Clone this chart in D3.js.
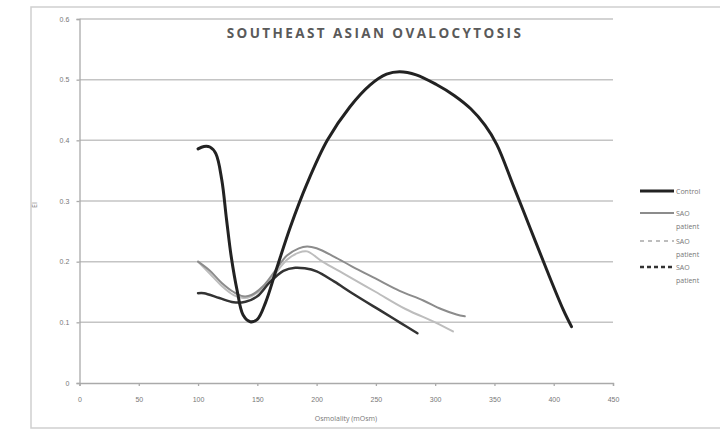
<!DOCTYPE html>
<html lang="en">
<head>
    <script type="text/javascript" src="https://cdn.jsdelivr.net/npm/d3@7"></script>
    <meta charset="UTF-8">
    <title>Southeast Asian Ovalocytosis</title>
<style>
    body { margin: 0; background: #ffffff; font-family: "Open Sans", "DejaVu Sans", sans-serif; }
</style>
</head>
<body>
<script>

    // osmolality (x) / EI (y)
    var controlX = [100,105,110,115,120,124,128,133,138,144,150,157,166,178,192,209,228,245,259,270,284,301,316,330,342,352,366,380,394,408,415];
    var controlY = [0.386,0.390,0.389,0.378,0.335,0.270,0.208,0.152,0.112,0.101,0.105,0.133,0.187,0.258,0.329,0.400,0.455,0.491,0.509,0.513,0.508,0.492,0.474,0.452,0.425,0.393,0.325,0.256,0.187,0.121,0.093];

    var sao1X = [100,110,120,130,138,145,155,165,175,185,192,200,215,230,250,270,290,305,318,325];
    var sao1Y = [0.200,0.185,0.165,0.150,0.143,0.145,0.160,0.185,0.210,0.222,0.225,0.222,0.208,0.192,0.172,0.152,0.136,0.122,0.113,0.110];

    var sao2X = [100,110,120,130,138,145,155,165,175,185,192,205,225,250,275,300,315];
    var sao2Y = [0.200,0.180,0.160,0.145,0.140,0.143,0.157,0.180,0.203,0.215,0.217,0.200,0.178,0.150,0.122,0.100,0.085];

    var sao3X = [100,105,118,130,140,150,160,172,182,190,200,215,230,255,270,285];
    var sao3Y = [0.148,0.148,0.140,0.133,0.134,0.143,0.165,0.185,0.190,0.189,0.184,0.167,0.148,0.118,0.100,0.082];

    var xTicks = [0,50,100,150,200,250,300,350,400,450];
    var yTicks = [0,0.1,0.2,0.3,0.4,0.5,0.6];

    var seriesNames = ["Control", "SAO patient", "SAO patient", "SAO patient"];

    var series = [
        {x: controlX, y: controlY, color: "#222", width: 3, dash: null},
        {x: sao1X, y: sao1Y, color: "#8c8c8c", width: 2, dash: null},
        {x: sao2X, y: sao2Y, color: "#bdbdbd", width: 2, dash: "4,4"},
        {x: sao3X, y: sao3Y, color: "#333", width: 2.5, dash: "4,3"}
    ];

    var svg = d3.select("body").append("svg")
        .attr("width", 720)
        .attr("height", 430);

    // outer frame
    svg.append("rect")
        .attr("x", 31).attr("y", 7)
        .attr("width", 700).attr("height", 421)
        .attr("fill", "none")
        .attr("stroke", "#cfcfcf")
        .attr("stroke-width", 1.5);

    var x = d3.scaleLinear().domain([0,450]).range([79.5,613]);
    var y = d3.scaleLinear().domain([0,0.6]).range([383,19]);

    // gridlines
    svg.append("g").selectAll("line")
        .data(yTicks.slice(1))
        .enter().append("line")
        .attr("x1", x(0)).attr("x2", x(450))
        .attr("y1", function(d){return y(d);})
        .attr("y2", function(d){return y(d);})
        .attr("stroke", "#c4c4c4")
        .attr("stroke-width", 1.5);

    var xAxis = d3.axisBottom(x).tickValues(xTicks).tickSize(3).tickFormat(d3.format("d"));
    var yAxis = d3.axisLeft(y).tickValues(yTicks).tickSize(3).tickFormat(function(d){return d === 0 ? "0" : d3.format(".1f")(d);});

    var gx = svg.append("g")
        .attr("transform", "translate(0," + y(0) + ")")
        .call(xAxis);
    gx.selectAll("text").attr("dy", "1.9em");

    var gy = svg.append("g")
        .attr("transform", "translate(" + x(0) + ",0)")
        .call(yAxis);
    gy.selectAll("text").attr("dx", "-0.6em");

    svg.selectAll(".tick text").attr("fill", "#777").attr("font-size", 7);
    svg.selectAll(".domain, .tick line").attr("stroke", "#aaa").attr("stroke-width", 1.3);

    var line = d3.line()
        .x(function(d){return x(d[0]);})
        .y(function(d){return y(d[1]);})
        .curve(d3.curveCatmullRom.alpha(0.5));

    // draw lightest first, control on top
    [2,1,3,0].forEach(function(i){
        var s = series[i];
        var pts = s.x.map(function(v,k){return [v, s.y[k]];});
        svg.append("path")
            .attr("d", line(pts))
            .attr("fill", "none")
            .attr("stroke", s.color)
            .attr("stroke-width", s.width)
            .attr("stroke-linejoin", "round")
            .attr("stroke-linecap", "round");
    });

    // title
    svg.append("text")
        .attr("x", 375).attr("y", 38)
        .attr("text-anchor", "middle")
        .attr("font-size", 13.5)
        .attr("font-weight", "bold")
        .attr("letter-spacing", 2.4)
        .attr("fill", "#5a5a5a")
        .text("SOUTHEAST ASIAN OVALOCYTOSIS");

    // axis titles
    svg.append("text")
        .attr("x", 346).attr("y", 421)
        .attr("text-anchor", "middle")
        .attr("font-size", 7)
        .attr("fill", "#777")
        .text("Osmolality (mOsm)");

    svg.append("text")
        .attr("transform", "translate(37,205) rotate(-90)")
        .attr("text-anchor", "middle")
        .attr("font-size", 7)
        .attr("fill", "#777")
        .text("EI");

    // legend
    var legendY = [191, 213, 241, 267];
    var legend = svg.append("g");
    seriesNames.forEach(function(name, i){
        var s = series[i];
        legend.append("line")
            .attr("x1", 640).attr("x2", 674)
            .attr("y1", legendY[i]).attr("y2", legendY[i])
            .attr("stroke", s.color)
            .attr("stroke-width", s.width)
            .attr("stroke-dasharray", s.dash);
        var t = legend.append("text")
            .attr("x", 676).attr("y", legendY[i] + 2.5)
            .attr("font-size", 7)
            .attr("fill", "#777");
        var words = name.split(" ");
        words.forEach(function(w, k){
            t.append("tspan")
                .attr("x", 676)
                .attr("dy", k === 0 ? 0 : 13)
                .text(w);
        });
    });

</script>
</body>
</html>
